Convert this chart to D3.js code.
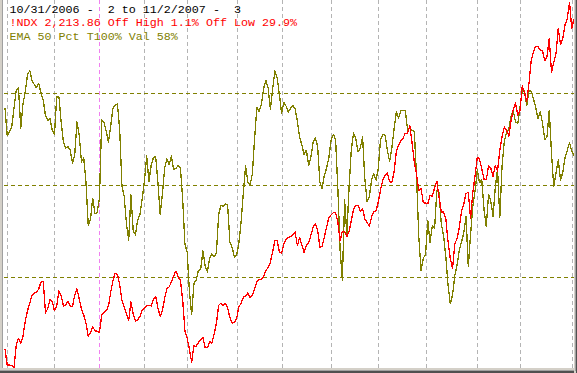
<!DOCTYPE html>
<html><head><meta charset="utf-8">
<script src="https://cdn.jsdelivr.net/npm/d3@7"></script>
<style>html,body{margin:0;padding:0;background:#fff;overflow:hidden}</style>
</head><body>
<svg id="chart" width="577" height="373"></svg>
<script>
// NDX daily close, 10/31/2006 .. 11/2/2007 (one value per trading day)
const ndx = [
1732,1709,1709,1708,1705,1738,1748,1741,1751,1773,
1788,1799,1811,1814,1815,1820,1830,1831,1785,1791,
1804,1802,1788,1796,1817,1810,1795,1796,1802,1795,
1794,1811,1820,1805,1791,1782,1770,1751,1756,1765,
1759,1758,1756,1782,1786,1788,1795,1815,1832,1843,
1841,1826,1803,1794,1783,1774,1801,1784,1773,1775,
1780,1789,1792,1795,1796,1795,1805,1809,1792,1780,
1788,1807,1820,1823,1830,1839,1846,1838,1832,1804,
1759,1748,1732,1713,1737,1736,1742,1745,1749,1734,
1734,1743,1741,1754,1770,1796,1799,1796,1799,1792,
1778,1770,1771,1777,1794,1799,1808,1809,1814,1807,
1811,1820,1831,1834,1834,1838,1847,1851,1859,1874,
1890,1891,1874,1872,1885,1893,1895,1896,1899,1903,
1883,1895,1884,1873,1883,1887,1898,1910,1915,1906,
1881,1882,1896,1910,1924,1928,1931,1931,1917,1890,
1904,1903,1896,1904,1920,1936,1942,1942,1933,1937,
1922,1917,1911,1925,1933,1934,1947,1965,1979,1986,
1989,1977,1975,1991,2020,2030,2036,2040,2047,2047,
2058,2033,2005,1987,1963,1966,1946,1945,1944,1956,
1955,1967,1977,1954,1932,1932,1922,1889,1864,1850,
1886,1893,1910,1933,1944,1959,1961,1923,1960,1985,
2012,2009,1995,1980,1979,1999,1996,1984,2000,1992,
2022,2042,2056,2052,2043,2065,2082,2091,2073,2080,
2116,2105,2094,2120,2154,2166,2174,2173,2168,2167,
2153,2159,2185,2136,2150,2163,2200,2176,2185,2205,
2214,2238,2200,2213.86];

// EMA 50 percent oscillator (%), same days
const emaPct = [
70.9,63.4,64.6,65.8,71.0,75.9,76.4,65.5,72.1,75.4,
80.0,81.2,78.6,77.4,76.5,77.7,75.1,73.2,68.9,67.6,
68.2,64.9,63.9,74.0,74.0,66.9,61.6,60.1,60.4,59.5,
56.0,58.2,67.2,63.6,56.3,57.4,50.8,39.1,40.6,46.4,
42.1,42.6,46.5,67.7,67.2,64.7,61.7,66.1,70.9,71.8,
72.1,65.0,49.7,46.9,39.4,35.0,47.3,37.6,36.4,40.5,
41.9,46.2,51.1,57.9,51.0,55.4,57.5,57.8,50.5,42.0,
47.7,54.6,57.1,55.6,57.9,54.2,54.5,55.3,54.6,46.2,
33.9,31.7,21.0,14.6,23.1,24.1,26.7,27.0,32.0,27.9,
26.3,30.0,31.2,30.5,31.5,42.0,44.5,44.1,44.8,44.5,
34.3,33.0,30.4,30.9,34.2,40.0,48.0,55.2,50.8,50.1,
53.1,62.9,71.1,70.0,72.0,76.3,78.6,76.4,70.6,76.1,
81.1,79.2,74.7,69.5,72.5,71.5,69.9,71.0,71.7,70.7,
67.4,63.1,60.9,58.3,59.5,55.3,57.5,61.6,62.8,60.6,
50.8,49.0,52.7,54.6,57.4,62.3,63.8,62.4,49.0,32.3,
24.1,45.9,36.6,49.4,59.7,64.2,62.5,59.0,60.1,63.1,
51.6,45.5,46.8,51.4,53.1,51.3,54.6,62.5,63.8,63.6,
59.5,56.5,60.0,65.3,69.9,68.3,70.2,70.4,70.4,65.0,
65.6,64.9,64.6,52.2,35.8,26.7,30.1,31.0,40.3,34.4,
38.8,38.1,48.4,48.0,39.4,36.2,30.4,22.7,17.6,20.0,
25.3,28.2,32.3,34.5,37.0,41.5,27.7,36.5,44.1,48.3,
54.1,50.6,51.4,43.2,38.6,47.4,45.6,41.5,49.2,54.4,
41.1,55.0,61.9,64.2,65.3,68.7,70.2,67.2,66.8,71.2,
75.6,75.6,71.7,75.7,75.6,73.4,71.1,68.0,69.9,66.9,
62.3,63.2,70.4,58.4,49.6,53.2,56.8,51.4,53.4,57.4,
59.4,61.5,59.3,58];

// trading-day index of the first session of each month; year start flagged
const monthStartDays = [1,22,42,62,81,103,123,145,166,187,210,229,252];
const yearStartDays = [42];
const pctGridLevels = [25,50,75];
const priceLow = 1704, priceHigh = 2239;

const headerTexts = [
  "10/31/2006 -  2 to 11/2/2007 -  3",
  "!NDX 2,213.86 Off High 1.1% Off Low 29.9%",
  "EMA 50 Pct T100% Val 58%"
];

// ---------- drawing ----------
const W = 577, H = 373;
const plot = {left: 5, right: 574, top: 1.6, bottom: 368.4};
const headerColors = ["#000000", "#ff0000", "#808000"];

const svg = d3.select("#chart");
svg.append("rect").attr("width", W).attr("height", H).attr("fill", "#ffffff");

const x = d3.scaleLinear().domain([0, ndx.length - 1]).range([plot.left, plot.right]);
const yPct = d3.scaleLinear().domain([0, 100]).range([plot.bottom, plot.top]);
const yPx = d3.scaleLinear().domain([priceLow, priceHigh]).range([plot.bottom, plot.top]);

// vertical month gridlines
svg.append("g").selectAll("line").data(monthStartDays).join("line")
  .attr("x1", d => Math.round(x(d)) + 0.5).attr("x2", d => Math.round(x(d)) + 0.5)
  .attr("y1", 0).attr("y2", 368)
  .attr("stroke", d => yearStartDays.includes(d) ? "#f080f0" : "#b4b4b4")
  .attr("stroke-width", 1).attr("stroke-dasharray", "4,3")
  .attr("shape-rendering", "crispEdges");

// horizontal percent gridlines
svg.append("g").selectAll("line").data(pctGridLevels).join("line")
  .attr("x1", 4).attr("x2", plot.right)
  .attr("y1", d => Math.round(yPct(d)) + 0.5).attr("y2", d => Math.round(yPct(d)) + 0.5)
  .attr("stroke", "#808000").attr("stroke-width", 1).attr("stroke-dasharray", "4,3")
  .attr("shape-rendering", "crispEdges");

const lineGen = (ys) => d3.line().x((d, i) => x(i)).y(d => ys(d)).curve(d3.curveLinear);

svg.append("path").datum(emaPct)
  .attr("d", lineGen(yPct)).attr("fill", "none")
  .attr("stroke", "#808000").attr("stroke-width", 1.3)
  .attr("stroke-linejoin", "round")
  .attr("shape-rendering", "crispEdges");

svg.append("path").datum(ndx)
  .attr("d", lineGen(yPx)).attr("fill", "none")
  .attr("stroke", "#ff0000").attr("stroke-width", 1.3)
  .attr("stroke-linejoin", "round")
  .attr("shape-rendering", "crispEdges");

// border (3D frame)
svg.append("rect").attr("x", 0).attr("y", 0).attr("width", 3).attr("height", H).attr("fill", "#d4d0c8");
svg.append("rect").attr("x", 2).attr("y", 0).attr("width", 1).attr("height", 369).attr("fill", "#a0a0a0");
svg.append("rect").attr("x", 0).attr("y", 368).attr("width", W).attr("height", 5).attr("fill", "#d4d0c8");
svg.append("rect").attr("x", 0).attr("y", 370).attr("width", W).attr("height", 1).attr("fill", "#a0a0a0");
svg.append("rect").attr("x", 0).attr("y", 371).attr("width", W).attr("height", 2).attr("fill", "#505050");
svg.append("rect").attr("x", 574).attr("y", 0).attr("width", 3).attr("height", H).attr("fill", "#d4d0c8");
svg.append("rect").attr("x", 575).attr("y", 0).attr("width", 1).attr("height", 371).attr("fill", "#a0a0a0");
svg.append("rect").attr("x", 576).attr("y", 0).attr("width", 1).attr("height", H).attr("fill", "#505050");

// header text
svg.append("g").selectAll("text").data(headerTexts).join("text")
  .attr("x", 9.5).attr("y", (d, i) => 12.5 + i * 13.6)
  .attr("fill", (d, i) => headerColors[i])
  .attr("font-family", "'Liberation Mono', 'Courier New', monospace")
  .attr("font-size", "11.7px")
  .style("white-space", "pre")
  .text(d => d);
</script>
</body></html>
